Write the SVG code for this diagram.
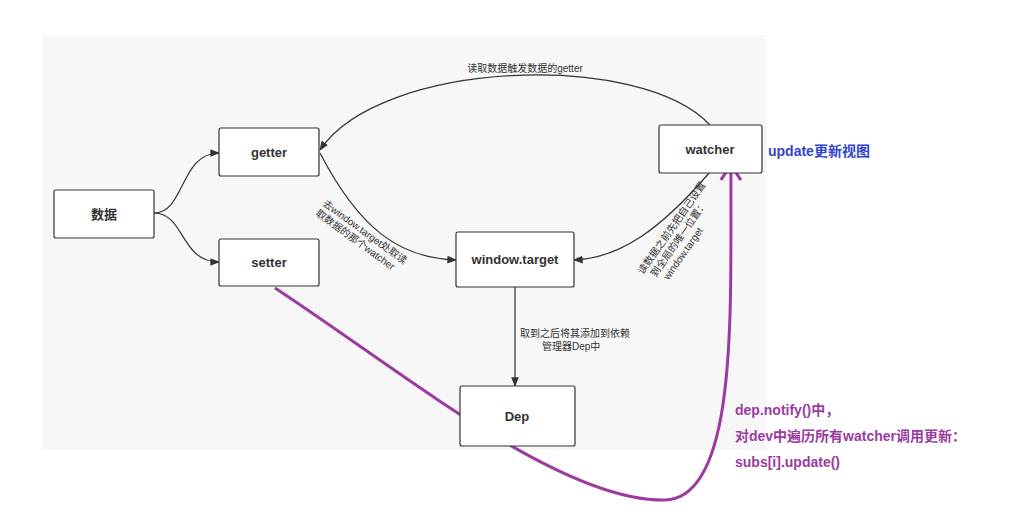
<svg xmlns="http://www.w3.org/2000/svg" width="1026" height="526" viewBox="0 0 1026 526">
<defs>
<marker id="a" viewBox="0 0 10 10" refX="9" refY="5" markerWidth="8" markerHeight="8" orient="auto-start-reverse"><path d="M0,1 L10,5 L0,9 Z" fill="#333"/></marker>
<marker id="p" viewBox="0 0 20 24" refX="18" refY="12" markerWidth="20" markerHeight="24" orient="auto" markerUnits="userSpaceOnUse"><path d="M3,2 L18,12 L3,22" fill="none" stroke="#9b3ba0" stroke-width="3"/></marker>
<style>
.n rect{fill:#fff;stroke:#333;stroke-width:1.2}
.n text{font-family:"Liberation Sans","Noto Sans CJK SC",sans-serif;font-size:13px;font-weight:bold;fill:#333;text-anchor:middle}
.c path{fill:none;stroke:#333;stroke-width:1.2}
.l{font-family:"Liberation Sans","Noto Sans CJK SC",sans-serif;font-size:10px;fill:#333}
.pt{font-family:"Liberation Sans","Noto Sans CJK SC",sans-serif;font-size:14px;font-weight:bold;fill:#9b3ba0}
</style>
</defs>
<rect width="1026" height="526" fill="#fff"/>
<rect x="42" y="35" width="725" height="415" fill="#f7f7f7"/>
<g class="c">
<path d="M154,213 C185,213 180,153 219,153" marker-end="url(#a)"/>
<path d="M154,213 C185,213 180,262 219,262" marker-end="url(#a)"/>
<path d="M710,125 C640,50 380,60 320,150" marker-end="url(#a)"/>
<path d="M320,153 C360,230 400,258 456,260" marker-end="url(#a)"/>
<path d="M710,172 C660,230 620,258 574,260" marker-end="url(#a)"/>
<path d="M515,287 L515,386" marker-end="url(#a)"/>
<path d="M275,288 C400,370 560,502 665,500 C740,498 730,300 731,165" style="stroke:#9b3ba0;stroke-width:3" marker-end="url(#p)"/>
</g>
<g id="n1" class="n"><rect x="54" y="190" width="100" height="48" rx="2"/><text x="104" y="219">数据</text></g>
<g id="n2" class="n"><rect x="219" y="128" width="100" height="48" rx="2"/><text x="269" y="157">getter</text></g>
<g id="n3" class="n"><rect x="219" y="239" width="100" height="47" rx="2"/><text x="269" y="267">setter</text></g>
<g id="n4" class="n"><rect x="456" y="232" width="118" height="55" rx="2"/><text x="515" y="264">window.target</text></g>
<g id="n5" class="n"><rect x="659" y="125" width="103" height="48" rx="2"/><text x="710" y="154">watcher</text></g>
<g id="n6" class="n"><rect x="460" y="386" width="115" height="60" rx="2"/><text x="517" y="421">Dep</text></g>
<text class="l" x="525" y="72" text-anchor="middle">读取数据触发数据的getter</text>
<g transform="translate(322,205) rotate(36)"><text class="l" x="0" y="0">去window.target处取读</text><text class="l" x="0" y="12">取数据的那个watcher</text></g>
<g transform="translate(643,275) rotate(-55)"><text class="l" x="0" y="0">读数据之前先把自己设置</text><text class="l" x="5" y="12">到全局的唯一位置：</text><text class="l" x="10" y="24">window.target</text></g>
<text class="l" x="520" y="337">取到之后将其添加到依赖</text>
<text class="l" x="542" y="350">管理器Dep中</text>
<text x="768" y="156" style="font-family:'Liberation Sans','Noto Sans CJK SC',sans-serif;font-size:14px;font-weight:bold;fill:#3344cc">update更新视图</text>
<text class="pt" x="735" y="415">dep.notify()中，</text>
<text class="pt" x="735" y="441">对dev中遍历所有watcher调用更新：</text>
<text class="pt" x="735" y="467">subs[i].update()</text>
</svg>
